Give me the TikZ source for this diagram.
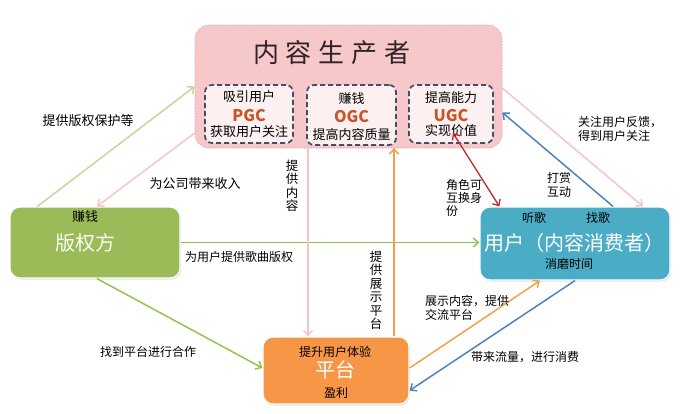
\documentclass[tikz,border=0pt]{standalone}
\usepackage{fontspec}
\setmainfont{Noto Sans CJK SC}
\usetikzlibrary{arrows.meta,calc,shadows}
\definecolor{prodfill}{RGB}{247,200,202}
\definecolor{prodline}{RGB}{225,160,165}
\definecolor{innerfill}{RGB}{253,240,240}
\definecolor{innerline}{RGB}{68,80,106}
\definecolor{gfill}{RGB}{155,187,89}
\definecolor{bfill}{RGB}{75,172,198}
\definecolor{ofill}{RGB}{247,150,70}
\definecolor{lgreen}{RGB}{195,214,155}
\definecolor{mgreen}{RGB}{146,196,80}
\definecolor{lpink}{RGB}{244,196,198}
\definecolor{corange}{RGB}{247,160,70}
\definecolor{cblue}{RGB}{79,129,189}
\definecolor{cred}{RGB}{192,40,40}
\definecolor{gctext}{RGB}{200,85,40}
\definecolor{titletext}{RGB}{50,35,40}
\begin{document}
\begin{tikzpicture}[x=1pt,y=-1pt,
  bigbox/.style={rounded corners=10pt, inner sep=0pt, draw=white, line width=1.2pt,
    drop shadow={opacity=0.25, shadow xshift=1pt, shadow yshift=-1.5pt}},
  innerbox/.style={rounded corners=7pt, inner sep=0pt, draw=innerline, fill=innerfill,
    line width=1.8pt, dash pattern=on 5pt off 3pt},
  lab/.style={inner sep=0pt, font=\fontsize{12}{14}\selectfont, align=left},
  boxlab/.style={inner sep=0pt, font=\fontsize{13}{15}\selectfont},
  bigtxt/.style={inner sep=0pt, text=white, font=\fontsize{20}{24}\selectfont},
  gc/.style={inner sep=0pt, text=gctext, font=\fontsize{16}{18}\selectfont\bfseries},
  vlab/.style={inner sep=0pt, font=\fontsize{12.5}{13.5}\selectfont, align=center},
  conn/.style={line width=1.5pt, -{Straight Barb[length=5pt,width=9pt]}},
  conn2/.style={line width=1.3pt, {Straight Barb[length=5pt,width=9pt]}-{Straight Barb[length=5pt,width=9pt]}}
]
\useasboundingbox (0,0) rectangle (690,413);
% main boxes
\node[rounded corners=14pt, fill=prodfill, draw=prodline, line width=0.6pt, dash pattern=on 1.5pt off 1.5pt,
  minimum width=307pt, minimum height=123pt, inner sep=0pt] (prod) at (348.5,86.5) {};
\node[innerbox, minimum width=88pt, minimum height=58pt] (pgc) at (249,114) {};
\node[innerbox, minimum width=89pt, minimum height=60pt] (ogc) at (351.5,115) {};
\node[innerbox, minimum width=84pt, minimum height=58pt] (ugc) at (451,114) {};
\node[bigbox, fill=gfill, minimum width=170pt, minimum height=71pt] (cr) at (95,242.5) {};
\node[bigbox, fill=bfill, minimum width=190pt, minimum height=73pt] (usr) at (575,243.5) {};
\node[bigbox, fill=ofill, minimum width=146pt, minimum height=67pt] (pf) at (336,370.5) {};

% producer texts
\node[inner sep=0pt, text=titletext, font=\fontsize{26}{30}\selectfont] (title) at (332,53)
  {内\hspace{7pt}容\hspace{7pt}生\hspace{7pt}产\hspace{7pt}者};
\node[boxlab] (pgc1) at (249,97) {吸引用户};
\node[gc] (pgc2) at (249,115.5) {PGC};
\node[boxlab] (pgc3) at (249,132) {获取用户关注};
\node[boxlab] (ogc1) at (351.5,99) {赚钱};
\node[gc] (ogc2) at (351.5,117) {OGC};
\node[boxlab] (ogc3) at (351.5,135) {提高内容质量};
\node[boxlab] (ugc1) at (451,98) {提高能力};
\node[gc] (ugc2) at (451,116) {UGC};
\node[boxlab] (ugc3) at (451,131) {实现价值};

% copyright texts
\node[boxlab] (cr1) at (85,217) {赚钱};
\node[bigtxt, text=white!95!gfill] (cr2) at (85,243) {版权方};
% user texts
\node[boxlab, font=\fontsize{12}{14}\selectfont] (u1) at (534,218) {听歌};
\node[boxlab, font=\fontsize{12}{14}\selectfont] (u2) at (598,218) {找歌};
\node[bigtxt] (u3) at (574,243) {用户（内容消费者）};
\node[boxlab, font=\fontsize{12}{14}\selectfont] (u4) at (569,264) {消磨时间};
% platform texts
\node[boxlab, font=\fontsize{12}{14}\selectfont] (p1) at (335,352) {提升用户体验};
\node[bigtxt] (p2) at (335,370) {平台};
\node[boxlab, font=\fontsize{12}{14}\selectfont] (p3) at (336,393) {盈利};

% connectors
\coordinate (x4) at (308,0);
\coordinate (x5) at (394,0);
\draw[conn, lgreen] ([xshift=28pt]cr.north west) -- (prod.west);
\draw[conn, lpink] ([yshift=-46.5pt]prod.west) -- ([xshift=2pt]cr.north);
\draw[conn, mgreen] (cr.east) -- (cr.east -| usr.west);
\draw[conn, lpink] (ogc.south -| x4) -- (pf.north -| x4);
\draw[conn, corange] (pf.north -| x5) -- ([yshift=-2pt]ogc.south -| x5);
\draw[conn2, cred] ([xshift=2pt,yshift=-19pt]ugc.center) -- ([xshift=20pt]usr.north west);
\draw[conn, cblue] ([xshift=38pt]usr.north) -- ([yshift=-26pt]prod.east);
\draw[conn, lpink] ([yshift=-1.5pt]prod.east) -- ([xshift=68pt]usr.north);
\draw[conn, mgreen] ([xshift=2pt]cr.south) -- ([yshift=2.5pt]pf.west);
\draw[conn, corange] ([yshift=2.5pt]pf.east) -- ([xshift=-35pt]usr.south);
\draw[conn, cblue] (usr.south) -- ([yshift=-20pt]pf.east);

% connector labels
\node[lab, font=\fontsize{13}{15}\selectfont] (l1) at (88,121) {提供版权保护等};
\node[lab, font=\fontsize{13}{15}\selectfont] (l2) at (195,184) {为公司带来收入};
\node[lab] (l3) at (239,257) {为用户提供歌曲版权};
\node[vlab] (l4) at (292,186) {提\\供\\内\\容};
\node[vlab] (l5) at (376,290) {提\\供\\展\\示\\平\\台};
\node[lab, anchor=west, font=\fontsize{12}{13}\selectfont] (l6) at (446,198) {角色可\\互换身\\份};
\node[lab, align=center] (l7) at (559,185) {打赏\\互动};
\node[lab, anchor=west] (l8) at (578,129) {关注用户反馈，\\得到用户关注};
\node[lab] (l9) at (148,352) {找到平台进行合作};
\node[lab, anchor=west] (l10) at (425,308) {展示内容，提供\\交流平台};
\node[lab] (l11) at (525,357) {带来流量，进行消费};
\end{tikzpicture}
\end{document}
